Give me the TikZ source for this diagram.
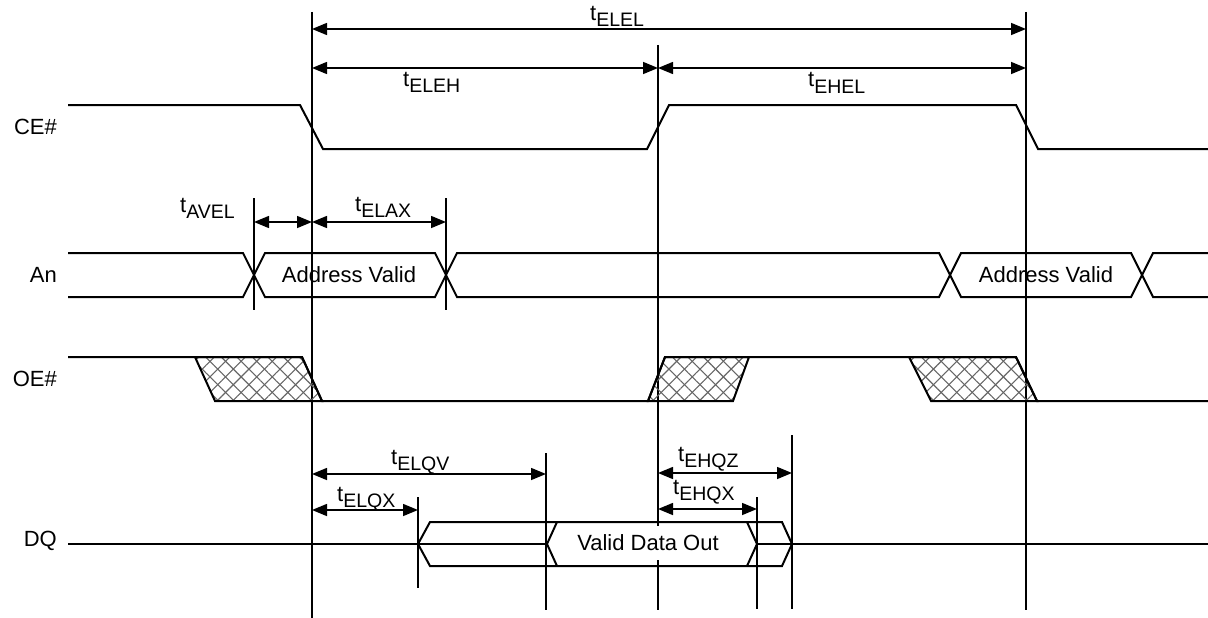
\documentclass[tikz,border=0pt]{standalone}
\usepackage{fontspec}
\setmainfont{Liberation Sans}
\usetikzlibrary{arrows.meta,patterns.meta}
\newcommand{\tsub}[1]{t\raisebox{-6pt}{\fontsize{19.5}{19.5}\selectfont #1}}

\begin{document}
\begin{tikzpicture}[x=1pt,y=-1pt,
  sig/.style={line width=2pt},
  mark line/.style={line width=1.3pt},
  dim/.style={line width=1.5pt,{Triangle[length=15pt,width=12pt]}-{Triangle[length=15pt,width=12pt]}},
  lbl/.style={font=\fontsize{22}{24}\selectfont,inner sep=0pt},
  hatch/.style={pattern={Lines[angle=#1,distance=11pt,line width=1.1pt]},pattern color=black!60}]
\useasboundingbox (0,0) rectangle (1208,618);
% timing marks
\foreach \x/\a/\b in {312/12/618, 658/45/610, 1026/12/610, 254/198/310, 446/198/310,
                      418/497/588, 546/453/610, 757/497/609, 792/435/609}
  \draw[mark line] (\x,\a) -- (\x,\b);
% CE#
\draw[sig] (68,105) -- (300,105) -- (323,149) -- (647,149) -- (669,105) -- (1016,105) -- (1038,149) -- (1208,149);
% An
\draw[sig] (68,253) -- (243,253) -- (265,297) -- (435,297) -- (457,253) -- (939,253) -- (961,297) -- (1131,297) -- (1153,253) -- (1208,253);
\draw[sig] (68,297) -- (243,297) -- (265,253) -- (435,253) -- (457,297) -- (939,297) -- (961,253) -- (1131,253) -- (1153,297) -- (1208,297);
% OE#
\foreach \a/\b/\c/\d in {195/302/322/215, 665/749/733/648, 909/1016/1037/931}{
  \fill[hatch=45] (\a,357) -- (\b,357) -- (\c,401) -- (\d,401) -- cycle;
  \fill[hatch=-45] (\a,357) -- (\b,357) -- (\c,401) -- (\d,401) -- cycle;
  \draw[sig] (\a,357) -- (\b,357) -- (\c,401) -- (\d,401) -- cycle;
}
\draw[sig] (68,357) -- (302,357) -- (322,401) -- (648,401) -- (665,357) -- (1016,357) -- (1037,401) -- (1208,401);
% DQ
\draw[sig] (68,544) -- (547,544) (757,544) -- (1208,544);
\node[lbl,fill=white,minimum height=34pt,inner xsep=4pt] (vdo) at (648,543) {Valid Data Out};
\draw[sig] (782,522) -- (430,522) -- (418,544) -- (430,566) -- (782,566) -- (792,544) -- cycle;
\draw[sig] (557,522) -- (547,544) -- (557,566) (747,522) -- (757,544) -- (747,566);
% dimensions
\foreach \a/\b/\y in {312/1026/29, 312/658/68, 658/1026/68, 254/312/222, 312/446/222,
                      312/546/474, 312/418/510, 658/792/473, 658/757/509}
  \draw[dim] (\a,\y) -- (\b,\y);
\foreach \x/\y/\s in {590/21/ELEL, 403/86/ELEH, 808/87/EHEL, 180/212/AVEL, 355/211/ELAX,
                      391/464/ELQV, 337/501/ELQX, 678/461/EHQZ, 673/494/EHQX}
  \node[lbl,anchor=base west] (t\s) at (\x,\y) {\tsub{\s}};
\foreach \n/\s/\y in {ce/CE\#/127, an/An/275, oe/OE\#/379, dq/DQ/541}
  \node[lbl,anchor=east] (\n) at (57,\y) {\s};
\node[lbl] (av1) at (349,275) {Address Valid};
\node[lbl] (av2) at (1046,275) {Address Valid};
\end{tikzpicture}
\end{document}
